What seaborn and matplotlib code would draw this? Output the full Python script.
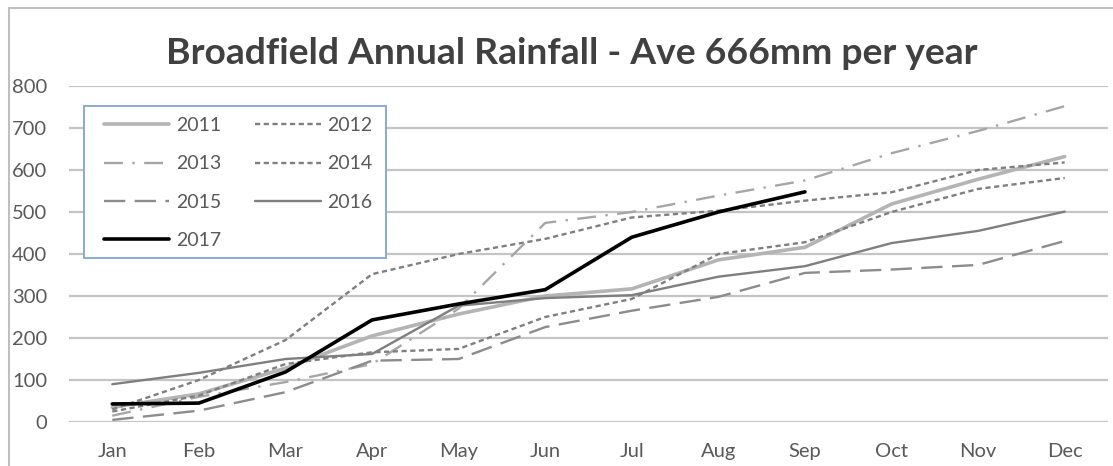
import matplotlib
matplotlib.use("Agg")
import matplotlib.pyplot as plt
from matplotlib.lines import Line2D
from matplotlib.patches import Rectangle
import seaborn as sns
import pandas as pd

# Cumulative monthly rainfall (mm) per year
months = ["Jan", "Feb", "Mar", "Apr", "May", "Jun",
          "Jul", "Aug", "Sep", "Oct", "Nov", "Dec"]
rain_2011 = [35, 67, 128, 205, 257, 300, 317, 386, 416, 519, 578, 632]
rain_2012 = [30, 100, 195, 352, 400, 436, 487, 503, 527, 547, 600, 618]
rain_2013 = [15, 60, 95, 138, 270, 474, 500, 539, 575, 640, 693, 752]
rain_2014 = [25, 63, 138, 166, 174, 250, 293, 400, 428, 500, 555, 581]
rain_2015 = [5, 27, 71, 146, 150, 226, 265, 298, 355, 363, 374, 431]
rain_2016 = [90, 117, 150, 162, 277, 295, 302, 346, 371, 426, 455, 501]
rain_2017 = [43, 45, 119, 243, 281, 315, 440, 500, 548]
y_ticks = [0, 100, 200, 300, 400, 500, 600, 700, 800]
title = "Broadfield Annual Rainfall - Ave 666mm per year"

series = {
    "2011": rain_2011, "2012": rain_2012, "2013": rain_2013,
    "2014": rain_2014, "2015": rain_2015, "2016": rain_2016,
    "2017": rain_2017,
}

styles = {
    "2011": dict(color="#b4b4b4", lw=2.6, ls="-"),
    "2012": dict(color="#7f7f7f", lw=1.7, ls=(0, (2.2, 1.5))),
    "2013": dict(color="#a6a6a6", lw=1.7, ls=(0, (8, 4, 1, 4))),
    "2014": dict(color="#7f7f7f", lw=1.7, ls=(0, (2.2, 1.5))),
    "2015": dict(color="#8c8c8c", lw=1.7, ls=(0, (9, 4))),
    "2016": dict(color="#7f7f7f", lw=1.7, ls="-"),
    "2017": dict(color="#000000", lw=2.6, ls="-"),
}

sns.set_theme(style="white")
plt.rcParams["font.family"] = ["Lato", "DejaVu Sans"]

W, H = 1113, 466
fig = plt.figure(figsize=(W / 100, H / 100), dpi=100)
ax = fig.add_axes([69 / W, 1 - 422 / H, (1108 - 69) / W, (422 - 86) / H])

handles = {}
for year, vals in series.items():
    df = pd.DataFrame({"month": months[:len(vals)], "rain": vals})
    st = styles[year]
    sns.lineplot(data=df, x="month", y="rain", ax=ax, color=st["color"],
                 linewidth=st["lw"], linestyle=st["ls"], sort=False,
                 solid_joinstyle="miter", label=year, legend=False)
    handles[year] = Line2D([], [], color=st["color"], lw=st["lw"], ls=st["ls"])

ax.set_xlim(-0.5, 11.5)
ax.set_ylim(0, 800)
ax.set_yticks(y_ticks)
ax.set_xticks(range(len(months)))
ax.set_xticklabels(months)
ax.set_xlabel("")
ax.set_ylabel("")
ax.grid(axis="y", color="#c4c4c4", linewidth=1.6)
ax.grid(axis="x", visible=False)
ax.set_axisbelow(True)
for s in ax.spines.values():
    s.set_visible(False)
ax.tick_params(axis="y", length=0, pad=15.5, labelsize=14.5, labelcolor="#595959")
ax.tick_params(axis="x", length=0, pad=15, labelsize=14.5, labelcolor="#595959")

# Legend box
fig.add_artist(Rectangle((84 / W, 1 - 258 / H), (386 - 84) / W, (258 - 106) / H,
                         transform=fig.transFigure, facecolor="white",
                         edgecolor="#7fa6d3", linewidth=1.3, zorder=3))

# Legend entries: two columns, filled row by row
order = ["2011", "2013", "2015", "2017", "2012", "2014", "2016"]
leg = fig.legend([handles[k] for k in order], order, ncol=2,
                 loc="upper left", bbox_to_anchor=(104 / W, 1 - 117 / H),
                 borderaxespad=0, borderpad=0,
                 fontsize=14, handlelength=3.35, handletextpad=0.36,
                 columnspacing=1.75, labelspacing=1.1,
                 frameon=False, labelcolor="#595959")
leg.set_zorder(4)

fig.text(0.514, 1 - 53 / H, title, ha="center", va="center",
         fontsize=26.8, fontweight="bold", color="#404040")

# Chart-area border
fig.add_artist(Line2D([9 / W, 1], [1 - 8 / H, 1 - 8 / H],
                      transform=fig.transFigure, color="#bfbfbf", lw=1.5))
fig.add_artist(Line2D([9 / W, 9 / W], [0, 1 - 8 / H],
                      transform=fig.transFigure, color="#bfbfbf", lw=1.5))

fig.savefig("out.png", dpi=100, facecolor="white")
